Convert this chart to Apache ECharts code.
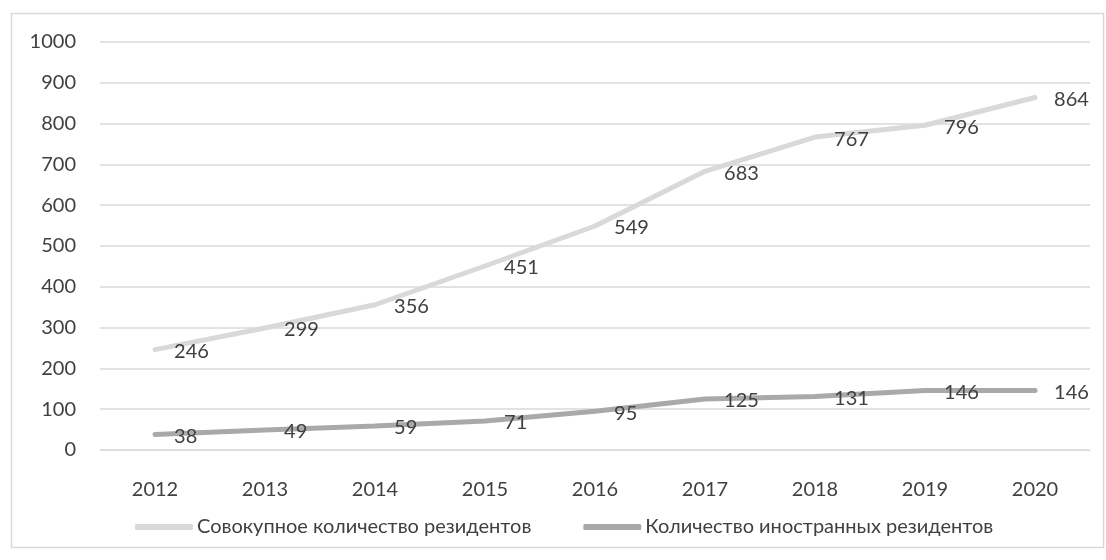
<!DOCTYPE html>
<html>
<head>
<meta charset="utf-8">
<script src="https://cdn.jsdelivr.net/npm/echarts@6/dist/echarts.min.js"></script>
<style>
  html, body { margin: 0; padding: 0; background: #fff; }
  #chart { width: 1106px; height: 560px; }
</style>
</head>
<body>
<div id="chart"></div>
<script>
const years = ['2012', '2013', '2014', '2015', '2016', '2017', '2018', '2019', '2020']
const totalResidents = [246, 299, 356, 451, 549, 683, 767, 796, 864]
const foreignResidents = [38, 49, 59, 71, 95, 125, 131, 146, 146]
const seriesNames = ['Совокупное количество резидентов', 'Количество иностранных резидентов']

const font = 'Lato, "Open Sans", sans-serif'
const textColor = '#404040'

const chart = echarts.init(document.getElementById('chart'))

function lineSeries (name, data, color) {
  return {
    name,
    type: 'line',
    data,
    symbol: 'circle',
    symbolSize: 0.1,
    lineStyle: { color, width: 5, cap: 'round' },
    itemStyle: { color },
    label: {
      show: true,
      position: 'right',
      distance: 19,
      offset: [0, 2],
      color: textColor,
      fontFamily: font,
      fontSize: 20
    },
    emphasis: { disabled: true }
  }
}

chart.setOption({
  animation: false,
  graphic: [{
    type: 'rect',
    shape: { x: 11.5, y: 13.5, width: 1092, height: 534 },
    style: { fill: 'none', stroke: '#d9d9d9', lineWidth: 1.5 },
    silent: true
  }],
  grid: { left: 100, right: 16, top: 42, bottom: 110 },
  legend: {
    data: seriesNames.map(name => ({ name, icon: 'roundRect' })),
    left: 135,
    top: 517,
    padding: 0,
    itemWidth: 58,
    itemHeight: 6,
    itemGap: 52,
    selectedMode: false,
    textStyle: { color: textColor, fontFamily: font, fontSize: 20, padding: [0, 0, 0, -1] }
  },
  xAxis: {
    type: 'category',
    data: years,
    axisLine: { show: true, lineStyle: { color: '#d9d9d9' } },
    axisTick: { show: false },
    axisLabel: { color: textColor, fontFamily: font, fontSize: 20, margin: 30 }
  },
  yAxis: {
    type: 'value',
    min: 0,
    max: 1000,
    interval: 100,
    axisLine: { show: false },
    axisTick: { show: false },
    axisLabel: {
      color: textColor,
      fontFamily: font,
      fontSize: 20,
      margin: 24,
      formatter: v => String(v)
    },
    splitLine: { show: true, lineStyle: { color: '#d9d9d9', width: 1.5 } }
  },
  series: [
    lineSeries(seriesNames[0], totalResidents, '#d9d9d9'),
    lineSeries(seriesNames[1], foreignResidents, '#a9a9a9')
  ]
})
</script>
</body>
</html>
